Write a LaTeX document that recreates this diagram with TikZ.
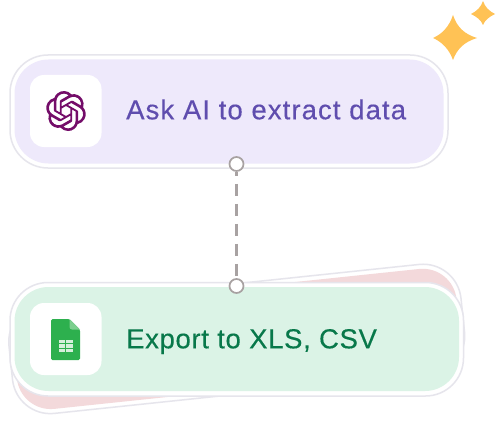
\documentclass[tikz,border=0pt]{standalone}
\usepackage{fontspec}
\setmainfont{Liberation Sans}
\newfontfamily\askfont[LetterSpace=3.95,FakeBold=0.3]{Liberation Sans}
\newfontfamily\expfont[LetterSpace=2.4,FakeBold=0.3]{Liberation Sans}
\usetikzlibrary{calc,svg.path}
\definecolor{ringgray}{HTML}{E6E5EC}
\definecolor{lilac}{HTML}{EEE9FB}
\definecolor{mint}{HTML}{DBF3E6}
\definecolor{pinkish}{HTML}{F3D9DB}
\definecolor{purpletxt}{HTML}{5F4DAE}
\definecolor{greentxt}{HTML}{08784A}
\definecolor{logo}{HTML}{740D69}
\definecolor{sheet}{HTML}{2DB04E}
\definecolor{sheetfold}{HTML}{7BCF8E}
\definecolor{star}{HTML}{FFC255}
\definecolor{link}{HTML}{A8A2A2}
\tikzset{
  x=1pt,y=-1pt,
  cardshell/.style={draw=ringgray,line width=1.5pt,fill=white,rounded corners=38pt},
  cardfill/.style={rounded corners=34pt},
  iconbox/.style={fill=white,rounded corners=14pt},
  port/.style={circle,draw=link,line width=1.7pt,fill=white,inner sep=0pt,minimum size=14pt},
  cardtext/.style={font=\fontsize{27.5}{30}\selectfont,anchor=base west,inner sep=0pt}
}
\begin{document}
\begin{tikzpicture}
\useasboundingbox (0,0) rectangle (497,425);
\fill[white] (0,0) rectangle (497,425);
% stars
\fill[star] (453,15) .. controls (457,27) and (464,34) .. (477,38) .. controls (464,42) and (457,49) .. (453,60) .. controls (449,49) and (442,42) .. (433,38) .. controls (442,34) and (449,27) .. (453,15) -- cycle;
\fill[star] (483,1) .. controls (485,7) and (489,11) .. (495,14) .. controls (489,17) and (485,20) .. (483,25) .. controls (481,20) and (477,17) .. (471,14) .. controls (477,11) and (481,7) .. (483,1) -- cycle;
% top card
\draw[cardshell] (10,55) rectangle (448,168);
\fill[lilac,cardfill] (14.5,59.5) rectangle (443.5,163.5);
\fill[iconbox] (30,75) rectangle (101.5,147);
% back card
\begin{scope}[rotate around={6:(236,339)}]
\draw[cardshell] (9.5,284) rectangle (464,394);
\fill[pinkish,cardfill] (14,288.5) rectangle (459.5,389.5);
\end{scope}
% front card
\draw[cardshell] (10,282.5) rectangle (463.5,396);
\fill[mint,cardfill] (14.5,287) rectangle (459,391);
\fill[iconbox] (30,303) rectangle (101.5,375);
% logo
\begin{scope}[shift={(46,91)},xscale=1.667,yscale=-1.667]
\fill[logo,even odd rule] svg "M22.2819 9.8211 a5.9847 5.9847 0 0 0 -0.5157 -4.9108 a6.0462 6.0462 0 0 0 -6.5098 -2.9 A6.0651 6.0651 0 0 0 4.9807 4.1818 a5.9847 5.9847 0 0 0 -3.9977 2.9 a6.0462 6.0462 0 0 0 0.7427 7.0966 a5.98 5.98 0 0 0 0.511 4.9107 a6.051 6.051 0 0 0 6.5146 2.9001 A5.9847 5.9847 0 0 0 13.2599 24 a6.0557 6.0557 0 0 0 5.7718 -4.2058 a5.9894 5.9894 0 0 0 3.9977 -2.9001 a6.0557 6.0557 0 0 0 -0.7475 -7.0729 z
M13.2599 22.4292 a4.4755 4.4755 0 0 1 -2.8764 -1.0408 l0.1419 -0.0804 l4.7783 -2.7582 l0.3927 -0.6813 v-6.7369 l2.02 1.1686 l0.038 0.052 v5.5826 a4.504 4.504 0 0 1 -4.4945 4.4944 z
M3.5992 18.3038 a4.4708 4.4708 0 0 1 -0.5346 -3.0137 l0.142 0.0852 l4.783 2.7582 l0.7806 0 l5.8428 -3.3685 v2.3324 l-0.0332 0.0615 L9.74 19.9502 a4.4992 4.4992 0 0 1 -6.1408 -1.6464 z
M2.3408 7.8956 a4.485 4.485 0 0 1 2.3655 -1.9728 V11.6 l0.3879 0.6765 l5.8144 3.3543 l-2.0201 1.1685 l-0.071 0 l-4.8303 -2.7865 A4.504 4.504 0 0 1 2.3408 7.872 z
M18.9371 11.7514 L13.1038 8.364 L15.1192 7.2 l0.071 0 l4.8303 2.7913 a4.4944 4.4944 0 0 1 -0.6765 8.1042 v-5.6772 l-0.407 -0.667 z
M20.9478 8.7283 l-0.142 -0.0852 l-4.7735 -2.7818 l-0.7854 0 L9.409 9.2297 V6.8974 l0.0284 -0.0615 l4.8303 -2.7866 a4.4992 4.4992 0 0 1 6.6802 4.66 z
M8.3065 12.863 l-2.02 -1.1638 l-0.038 -0.0567 V6.0742 a4.4992 4.4992 0 0 1 7.3757 -3.4537 l-0.142 0.0805 L8.704 5.459 l-0.3927 0.6813 z
M9.4041 10.4976 l2.602 -1.4998 l2.6069 1.4998 v2.9994 l-2.5974 1.4997 l-2.6067 -1.4997 z";
\end{scope}
% sheet icon
\fill[sheet,rounded corners=1.5pt] (51,319) -- (69.5,319) -- (80,329.5) -- (80,360) -- (51,360) -- cycle;
\fill[sheetfold] (69.5,319) -- (80,329.5) -- (72,329.5) .. controls (70.5,329.5) and (69.5,328.5) .. (69.5,327) -- cycle;
\fill[white,opacity=.8] (58.5,339.5) rectangle (73,352);
\fill[sheet] (58.5,343.3) rectangle (73,344);
\fill[sheet] (58.5,347.5) rectangle (73,348.2);
\fill[sheet] (64.5,339.5) rectangle (65.3,352);
% text
\node[cardtext,text=purpletxt] (asktext) at (126,119.3) {\askfont Ask AI to extract data};
\node[cardtext,text=greentxt] (exporttext) at (126,348.3) {\expfont Export to XLS, CSV};
% link
\node[port] (topport) at (236.5,164) {};
\node[port] (botport) at (236.5,286) {};
\draw[link,line width=2.8pt,dash pattern=on 12pt off 8pt,dash phase=8pt] (topport) -- (botport);
\end{tikzpicture}
\end{document}
